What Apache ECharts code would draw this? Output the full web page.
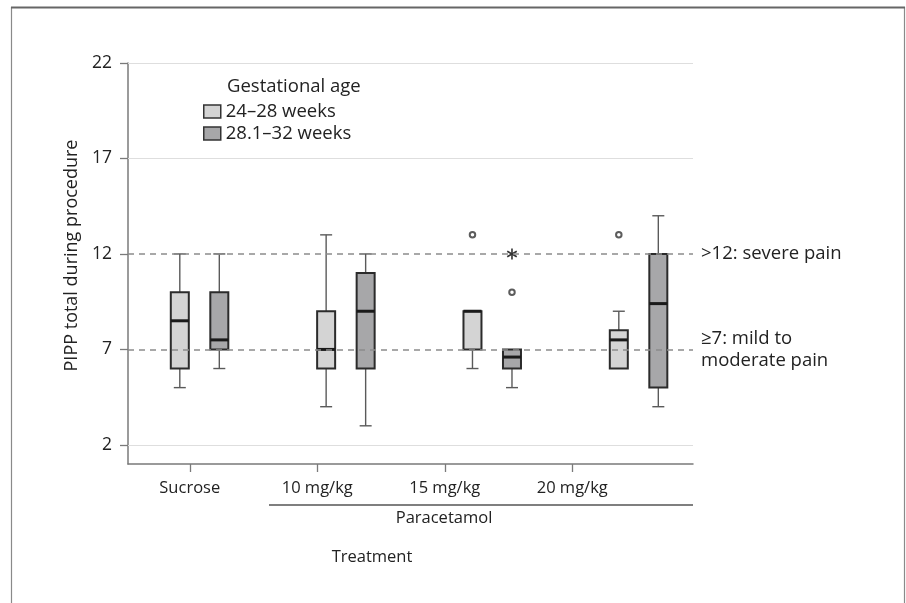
<!DOCTYPE html>
<html>
<head>
<meta charset="utf-8">
<script src="https://cdn.jsdelivr.net/npm/echarts@6/dist/echarts.min.js"></script>
<style>
  html, body { margin: 0; padding: 0; background: #fff; }
  #chart { width: 906px; height: 603px; }
</style>
</head>
<body>
<div id="chart"></div>
<script>
const treatments = ["Sucrose", "10 mg/kg", "15 mg/kg", "20 mg/kg"];
const yTicks = [2, 7, 12, 17, 22];
// [min, Q1, median, Q3, max]
const young = [[5, 6, 8.5, 10, 12], [4, 6, 7, 9, 13], [6, 7, 9, 9, 9], [6, 6, 7.5, 8, 9]];
const older = [[6, 7, 7.5, 10, 12], [3, 6, 9, 11, 12], [5, 6, 6.6, 7, 7], [4, 5, 9.4, 12, 14]];
// [treatment index, value]
const youngOutliers = [[2, 13], [3, 13]];
const olderOutliers = [[2, 10]];
const olderExtremes = [[2, 12]];
const painLevels = [12, 7];
const painLabels = [">12: severe pain", "≥7: mild to\nmoderate pain"];

const FONT = "Open Sans";
const SHIFT = 0.135;
const LIGHT = "#d4d4d4";
const DARK = "#a7a7a9";

const chart = echarts.init(document.getElementById("chart"));

const boxRenderer = (fill) => (params, api) => {
  const x = api.value(0);
  const v = [1, 2, 3, 4, 5].map((i) => api.value(i));
  const p = v.map((val) => api.coord([x, val])[1]);
  const cx = api.coord([x, v[0]])[0];
  const hw = 9, cw = 6;
  const whisker = { stroke: "#5a5a5a", lineWidth: 1.4 };
  const seg = (x1, y1, x2, y2, style) => ({ type: "line", shape: { x1, y1, x2, y2 }, style });
  const kids = [];
  if (v[4] > v[3]) kids.push(seg(cx, p[3], cx, p[4], whisker), seg(cx - cw, p[4], cx + cw, p[4], whisker));
  if (v[0] < v[1]) kids.push(seg(cx, p[1], cx, p[0], whisker), seg(cx - cw, p[0], cx + cw, p[0], whisker));
  kids.push({
    type: "rect",
    shape: { x: cx - hw, y: p[3], width: hw * 2, height: p[1] - p[3] },
    style: { fill, stroke: "#2b2b2b", lineWidth: 2 }
  });
  kids.push(seg(cx - hw, p[2], cx + hw, p[2], { stroke: "#1a1a1a", lineWidth: 3 }));
  return { type: "group", children: kids };
};

const asteriskRenderer = (params, api) => {
  const [cx, cy] = api.coord([api.value(0), api.value(1)]);
  const r = 5.5;
  const kids = [90, 30, 150].map((deg) => {
    const a = (deg * Math.PI) / 180;
    return {
      type: "line",
      shape: { x1: cx - r * Math.cos(a), y1: cy - r * Math.sin(a), x2: cx + r * Math.cos(a), y2: cy + r * Math.sin(a) },
      style: { stroke: "#333", lineWidth: 1.6 }
    };
  });
  return { type: "group", children: kids };
};

const labelStyle = { fontSize: 16.5, color: "#222", fontFamily: FONT };
const bigText = { fontSize: 18.5, color: "#222", fontFamily: FONT };

const option = {
  animation: false,
  textStyle: { fontFamily: FONT },
  grid: [
    { left: 128, right: 213, top: 63, bottom: 139 },
    { left: 126, right: 270, top: 63, bottom: 139 }
  ],
  legend: {
    left: 203,
    top: 102,
    padding: 0,
    orient: "vertical",
    itemGap: 3,
    itemWidth: 17,
    itemHeight: 13,
    icon: "rect",
    selectedMode: false,
    textStyle: bigText,
    data: [
      { name: "24–28 weeks", itemStyle: { color: LIGHT, borderColor: "#333", borderWidth: 1.5 } },
      { name: "28.1–32 weeks", itemStyle: { color: DARK, borderColor: "#333", borderWidth: 1.5 } }
    ]
  },
  xAxis: [
    {
      gridIndex: 0,
      type: "value",
      min: 0.511,
      max: 4.372,
      axisLine: { show: true, lineStyle: { color: "#7a7a7a", width: 1.5 } },
      axisTick: { show: false },
      axisLabel: { show: false },
      splitLine: { show: false }
    },
    {
      gridIndex: 1,
      type: "category",
      data: treatments,
      axisLine: { show: false },
      axisTick: { show: true, alignWithLabel: true, length: 8, lineStyle: { color: "#7a7a7a", width: 1.3 } },
      axisLabel: { margin: 16, ...labelStyle }
    }
  ],
  yAxis: [
    {
      gridIndex: 0,
      type: "value",
      min: 1,
      max: 22,
      name: "PIPP total during procedure",
      nameLocation: "middle",
      nameGap: 47,
      nameTextStyle: { ...labelStyle, fontSize: 18, padding: [0, 0, 0, 16] },
      axisLine: { show: true, lineStyle: { color: "#7a7a7a", width: 1.5 } },
      axisTick: { show: true, length: 8, customValues: yTicks, lineStyle: { color: "#7a7a7a", width: 1.3 } },
      axisLabel: { customValues: yTicks, margin: 16, ...labelStyle, fontSize: 17.5 },
      splitLine: { show: false }
    },
    { gridIndex: 1, type: "value", min: 1, max: 22, show: false }
  ],
  series: [
    {
      type: "line",
      data: [],
      xAxisIndex: 0,
      yAxisIndex: 0,
      markLine: {
        silent: true,
        symbol: ["none", "none"],
        label: { show: false },
        data: [
          ...yTicks.filter((t) => !painLevels.includes(t)).map((t) => ({
            yAxis: t,
            lineStyle: { color: "#dedede", type: "solid", width: 1.2 }
          })),
          ...painLevels.map((t, i) => ({
            yAxis: t,
            lineStyle: { color: "#8c8c8c", type: [6, 5], width: 1.5 },
            label: {
              show: true,
              position: "end",
              distance: 8,
              formatter: painLabels[i],
              align: "left",
              lineHeight: 22,
              ...bigText
            }
          }))
        ]
      }
    },
    {
      name: "24–28 weeks",
      type: "custom",
      itemStyle: { color: LIGHT },
      renderItem: boxRenderer(LIGHT),
      encode: { x: 0, y: [1, 2, 3, 4, 5] },
      data: young.map((d, i) => [i + 1 - SHIFT, ...d])
    },
    {
      name: "28.1–32 weeks",
      type: "custom",
      itemStyle: { color: DARK },
      renderItem: boxRenderer(DARK),
      encode: { x: 0, y: [1, 2, 3, 4, 5] },
      data: older.map((d, i) => [i + 1 + SHIFT, ...d])
    },
    {
      type: "scatter",
      symbol: "emptyCircle",
      symbolSize: 5.5,
      itemStyle: { color: "#333", borderWidth: 1.1 },
      data: [
        ...youngOutliers.map(([i, v]) => [i + 1 - SHIFT, v]),
        ...olderOutliers.map(([i, v]) => [i + 1 + SHIFT, v])
      ]
    },
    {
      type: "custom",
      renderItem: asteriskRenderer,
      data: olderExtremes.map(([i, v]) => [i + 1 + SHIFT, v])
    }
  ],
  graphic: [
    { type: "rect", shape: { x: 11.5, y: 7.5, width: 893, height: 700 }, style: { fill: "none", stroke: "#8a8a8a", lineWidth: 1.2 }, silent: true },
    { type: "line", shape: { x1: 11, y1: 7.5, x2: 905, y2: 7.5 }, style: { stroke: "#666", lineWidth: 2 }, silent: true },
    { type: "text", style: { text: "Gestational age", x: 227, y: 87, verticalAlign: "middle", fontSize: 18.5, fontFamily: FONT, fill: "#222" } },
    { type: "line", shape: { x1: 269, y1: 505, x2: 693, y2: 505 }, style: { stroke: "#555", lineWidth: 1.5 } },
    { type: "text", style: { text: "Paracetamol", x: 444, y: 518, align: "center", verticalAlign: "middle", fontSize: 16.5, fontFamily: FONT, fill: "#222" } },
    { type: "text", style: { text: "Treatment", x: 372, y: 557, align: "center", verticalAlign: "middle", fontSize: 16.5, fontFamily: FONT, fill: "#222" } }
  ]
};

chart.setOption(option);
</script>
</body>
</html>
